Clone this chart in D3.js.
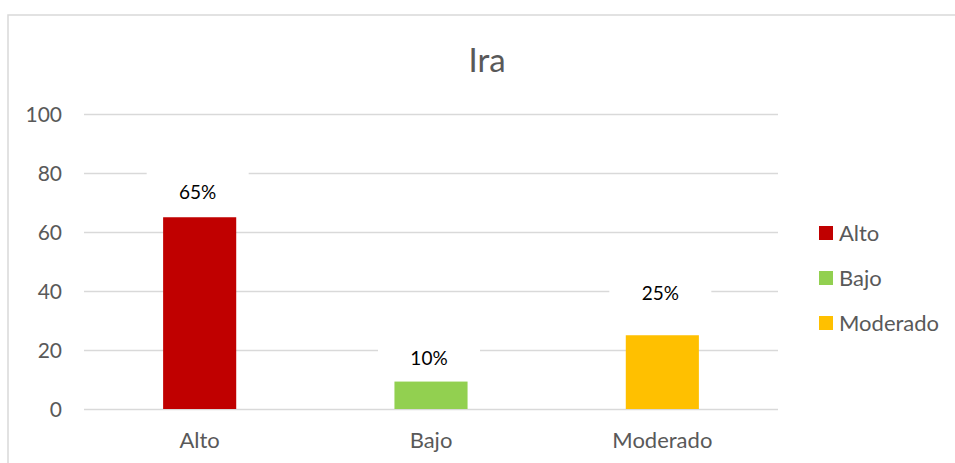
<!DOCTYPE html>
<html>
<head>
<meta charset="utf-8">
<script src="https://cdn.jsdelivr.net/npm/d3@7"></script>
<style>
  body { margin: 0; background: #fff; }
  svg { display: block; font-family: Lato, "Open Sans", sans-serif; }
</style>
</head>
<body>
<div id="chart"></div>
<script>
// data
var categories = ["Alto", "Bajo", "Moderado"];
var values = [65, 9.3, 25];
var labels = ["65%", "10%", "25%"];
var yTicks = [0, 20, 40, 60, 80, 100];
var colors = ["#c00000", "#92d050", "#ffc000"];

// layout
var width = 955, height = 463;
var plot = { left: 84, right: 778, top: 114, bottom: 409 };
var labelLift = [18, 17, 35]; // data labels were placed by hand in the original

var svg = d3.select("#chart").append("svg")
  .attr("width", width)
  .attr("height", height);

// chart border (only top and left are in view)
svg.append("path")
  .attr("d", "M8,463 V15 H955")
  .attr("fill", "none")
  .attr("stroke", "#d9d9d9")
  .attr("stroke-width", 1.5);

var x = d3.scaleBand()
  .domain(categories)
  .range([plot.left, plot.right])
  .paddingInner(0.684)
  .paddingOuter(0.342);

var y = d3.scaleLinear()
  .domain([0, 100])
  .range([plot.bottom, plot.top]);

// gridlines
svg.append("g")
  .attr("class", "grid")
  .attr("transform", "translate(" + plot.left + ",0)")
  .call(d3.axisLeft(y).tickValues(yTicks).tickSize(-(plot.right - plot.left)).tickFormat(""))
  .call(function (g) { g.select(".domain").remove(); })
  .selectAll("line")
  .attr("stroke", "#d9d9d9")
  .attr("stroke-width", 1.5);

// y axis labels
svg.append("g")
  .attr("transform", "translate(" + plot.left + ",0)")
  .call(d3.axisLeft(y).tickValues(yTicks).tickSize(0).tickPadding(22))
  .call(function (g) { g.select(".domain").remove(); })
  .selectAll("text")
  .attr("fill", "#595959")
  .attr("dy", "0.36em")
  .style("font-size", "21px")
  .style("font-family", "Lato, sans-serif");

// x axis labels
svg.append("g")
  .selectAll("text")
  .data(categories)
  .enter().append("text")
  .attr("x", function (d) { return x(d) + x.bandwidth() / 2; })
  .attr("y", 448)
  .attr("text-anchor", "middle")
  .attr("fill", "#595959")
  .style("font-size", "22px")
  .text(function (d) { return d; });

// bars
svg.append("g")
  .selectAll("rect")
  .data(categories)
  .enter().append("rect")
  .attr("x", function (d) { return x(d); })
  .attr("y", function (d, i) { return y(values[i]); })
  .attr("width", x.bandwidth())
  .attr("height", function (d, i) { return y(0) - y(values[i]); })
  .attr("fill", function (d, i) { return colors[i]; });

// data labels with white boxes that hide the gridlines
var lbl = svg.append("g")
  .selectAll("g")
  .data(categories)
  .enter().append("g")
  .attr("transform", function (d, i) {
    return "translate(" + (x(d) + x.bandwidth() / 2 - 2) + "," + (y(values[i]) - labelLift[i]) + ")";
  });

lbl.append("rect")
  .attr("x", -51)
  .attr("y", -28)
  .attr("width", 102)
  .attr("height", 40)
  .attr("fill", "#fff");

lbl.append("text")
  .attr("text-anchor", "middle")
  .attr("fill", "#000")
  .style("font-size", "19px")
  .text(function (d, i) { return labels[i]; });

// title
svg.append("text")
  .attr("x", 487)
  .attr("y", 72)
  .attr("text-anchor", "middle")
  .attr("fill", "#595959")
  .style("font-size", "33px")
  .text("Ira");

// legend
var legend = svg.append("g")
  .selectAll("g")
  .data(categories)
  .enter().append("g")
  .attr("transform", function (d, i) { return "translate(819," + (226 + i * 45) + ")"; });

legend.append("rect")
  .attr("width", 14)
  .attr("height", 14)
  .attr("fill", function (d, i) { return colors[i]; });

legend.append("text")
  .attr("x", 20)
  .attr("y", 15)
  .attr("fill", "#595959")
  .style("font-size", "22px")
  .text(function (d) { return d; });
</script>
</body>
</html>
